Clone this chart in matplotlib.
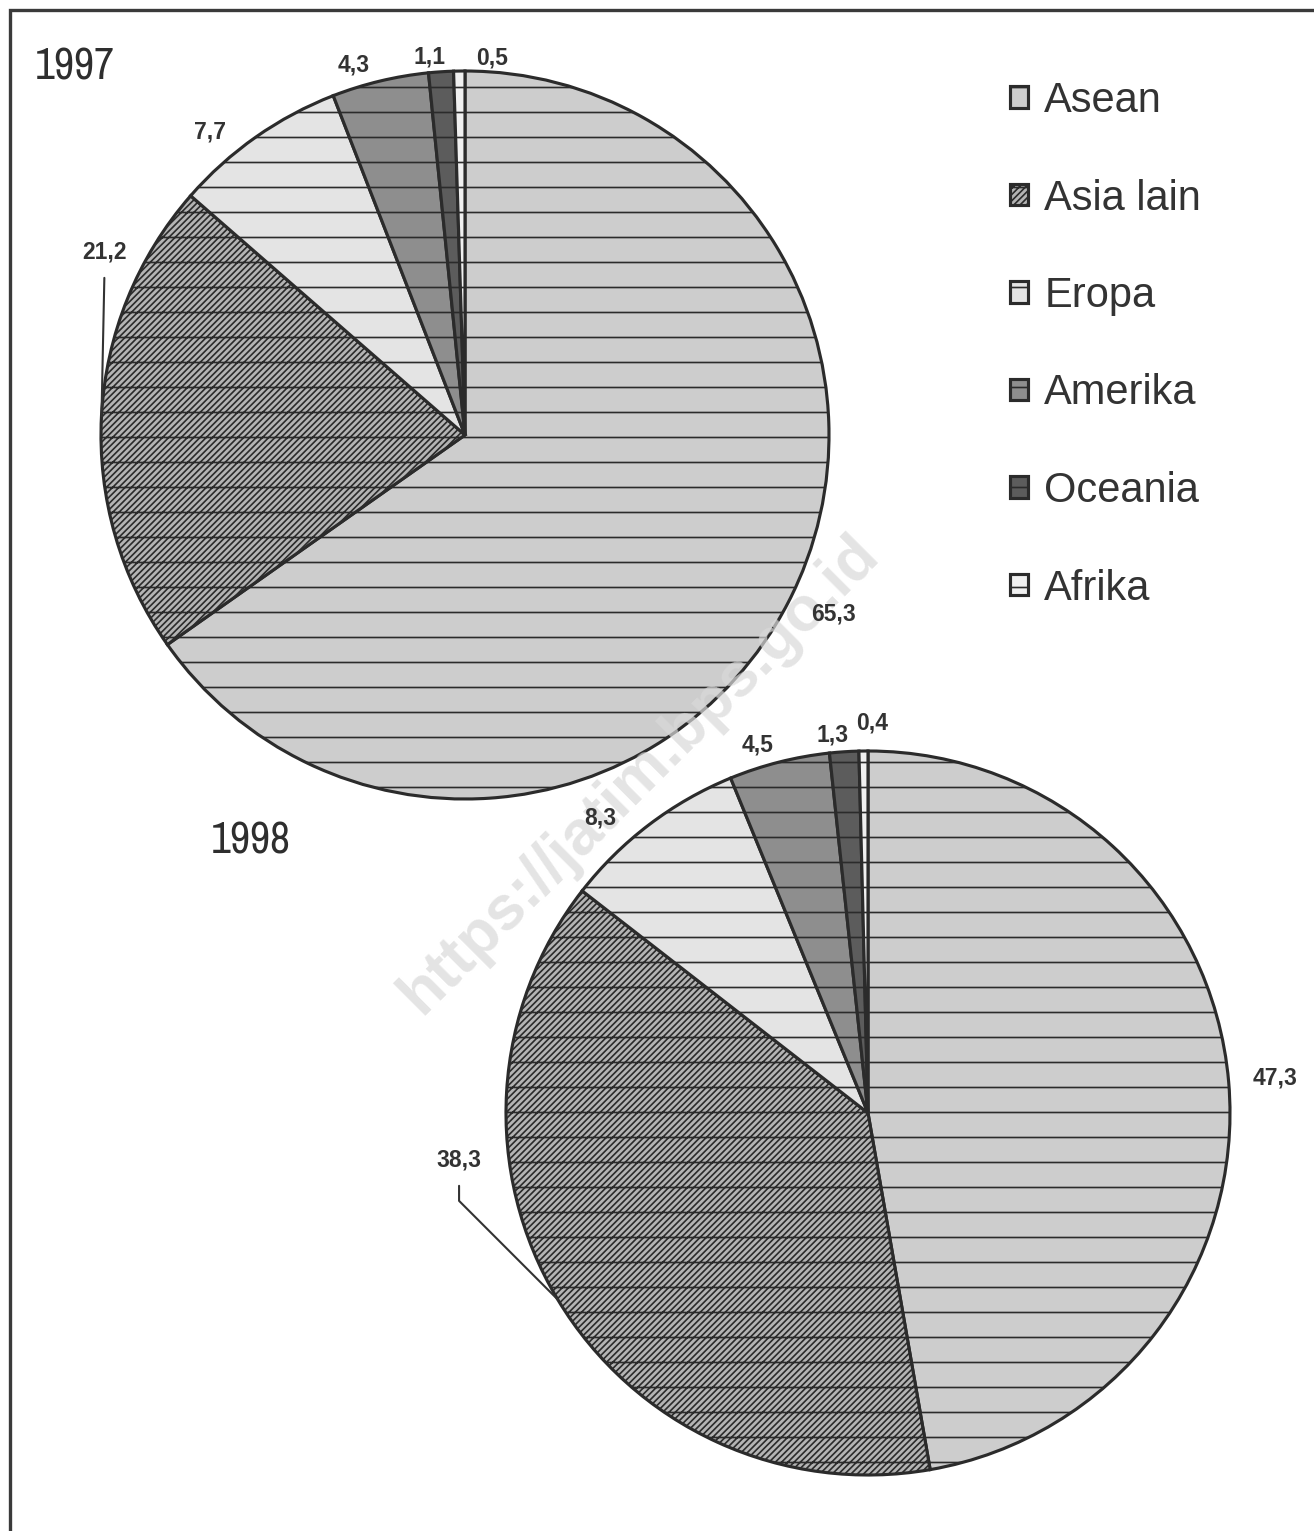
import numpy as np
import matplotlib
matplotlib.use("Agg")
import matplotlib.pyplot as plt
from matplotlib.patches import Rectangle
from matplotlib import font_manager

# ---------------- data ----------------
regions = ["Asean", "Asia lain", "Eropa", "Amerika", "Oceania", "Afrika"]
values_1997 = [65.3, 21.2, 7.7, 4.3, 1.1, 0.5]
values_1998 = [47.3, 38.3, 8.3, 4.5, 1.3, 0.4]
year_labels = ["1997", "1998"]
watermark = "https://jatim.bps.go.id"

# ---------------- styles ----------------
face_colors = ["#cdcdcd", "#b4b4b4", "#e4e4e4", "#8e8e8e", "#5c5c5c", "#f0f0f0"]
hatches = ["-", "////////-", "-", "-", "-", "-"]
edge_col = "#2b2b2b"
text_col = "#333333"

# label placement tweaks: (radial distance, angle shift in degrees)
lab_1997 = [(1.125, 1.5), (1.11, -24.0), (1.088, 5.1), (1.062, 3.2), (1.042, 1.6), (1.038, -5.0)]
lab_1998 = [(1.129, 0.0), (1.137, -24.5), (1.10, 5.0), (1.06, 2.5), (1.048, 1.6), (1.078, -1.3)]

W, H, DPI = 1314, 1531, 150
plt.rcParams["hatch.linewidth"] = 0.8
plt.rcParams["font.family"] = ["Liberation Sans", "DejaVu Sans"]

# pick a narrow font for the hand-written looking year titles if one exists
narrow = None
for f in font_manager.fontManager.ttflist:
    n = f.name
    if ("Narrow" in n or "Condensed" in n) and f.weight in (400, "normal", "regular"):
        narrow = n
        break
title_family = [narrow, "Liberation Sans"] if narrow else ["Liberation Sans"]

fig = plt.figure(figsize=(W / DPI, H / DPI), dpi=DPI)
fig.patch.set_facecolor("white")


def px_axes(cx, cy, r):
    return fig.add_axes([(cx - r) / W, (H - (cy + r)) / H, 2 * r / W, 2 * r / H])


def fmt(v):
    return f"{v:.1f}".replace(".", ",")


def draw_pie(ax, vals, labpos, leader_idx, leader_style):
    wedges, _ = ax.pie(vals, radius=1, startangle=90, counterclock=False,
                       colors=face_colors, hatch=hatches,
                       wedgeprops=dict(edgecolor=edge_col, linewidth=1.5))
    ax.set_xlim(-1, 1)
    ax.set_ylim(-1, 1)
    ax.set_aspect("equal")
    ax.axis("off")
    for i, (w, v) in enumerate(zip(wedges, vals)):
        mid = 0.5 * (w.theta1 + w.theta2)
        d, shift = labpos[i]
        ang = np.radians(mid + shift)
        tx, ty = d * np.cos(ang), d * np.sin(ang)
        if i == leader_idx:
            ex, ey = np.cos(np.radians(mid)), np.sin(np.radians(mid))
            ax.annotate(fmt(v), xy=(ex, ey), xytext=(tx, ty),
                        ha="center", va="center", fontsize=11, fontweight="bold",
                        color=text_col, annotation_clip=False,
                        arrowprops=dict(arrowstyle="-", color=text_col, lw=1.0,
                                        shrinkA=5, shrinkB=0,
                                        connectionstyle=leader_style))
        else:
            # drawn at figure level so the labels sit above the watermark
            fig.text(tx, ty, fmt(v), transform=ax.transData, ha="center", va="center",
                     fontsize=11, fontweight="bold", color=text_col, zorder=20)
    return wedges


ax1 = px_axes(465, 435, 364)
w1 = draw_pie(ax1, values_1997, lab_1997, 1, "arc3,rad=0")

ax2 = px_axes(868, 1113, 362)
w2 = draw_pie(ax2, values_1998, lab_1998, 1, "angle,angleA=90,angleB=135,rad=0")

# year titles
fig.text(75 / W, 1 - 68 / H, year_labels[0], ha="center", va="center", fontsize=21,
         color="#2e2e2e", family=title_family)
fig.text(251 / W, 1 - 842 / H, year_labels[1], ha="center", va="center", fontsize=21,
         color="#2e2e2e", family=title_family)

# legend
leg = fig.legend(w1, regions, loc="upper left",
                 bbox_to_anchor=(1010 / W, 1 - 81 / H), frameon=False,
                 fontsize=20, labelspacing=1.38, handlelength=0.42, handleheight=0.42,
                 handletextpad=0.4, borderpad=0, borderaxespad=0)
for t in leg.get_texts():
    t.set_color(text_col)

# watermark
fig.text(640 / W, 1 - 774 / H, watermark, rotation=45, ha="center", va="center",
         fontsize=30, fontweight="bold", color="#d9d9d9", alpha=0.7, zorder=10)

# frame
fig.patches.append(Rectangle((10 / W, -0.05), 1.1, 1 - 10 / H + 0.05,
                             transform=fig.transFigure, fill=False,
                             edgecolor="#3a3a3a", linewidth=1.6, clip_on=False))

fig.savefig("out.png", dpi=DPI, facecolor="white")
